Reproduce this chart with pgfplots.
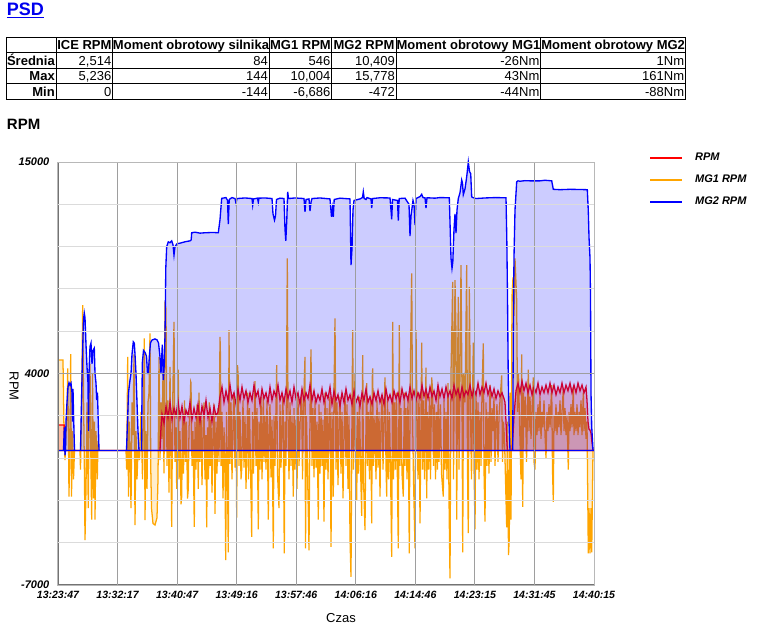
\documentclass[border=0pt]{standalone}
\usepackage{pgfplots}
\pgfplotsset{compat=1.18}
\usepackage{fontspec}
\setmainfont{Liberation Sans}
\definecolor{linkblue}{RGB}{0,0,238}
\definecolor{mgorange}{RGB}{255,165,0}
\definecolor{axgray}{RGB}{115,115,115}
\begin{document}
\begin{tikzpicture}
\useasboundingbox (0,0) rectangle (577.5pt,-471pt);
\begin{scope}[x=0.75pt,y=-0.75pt]
\node[anchor=base west, inner sep=0, text=linkblue, font=\fontsize{13.5}{16}\selectfont\bfseries] at (6.5,15) {\underline{PSD}};
\draw[line width=0.75pt] (6.7,37) rectangle (685.5,99.3);
\foreach \yy in {52.3,68,83.7} \draw[line width=0.75pt] (6.7,\yy) -- (685.5,\yy);
\foreach \xx in {56,112.7,269.3,331.7,396.2,540.7} \draw[line width=0.75pt] (\xx,37) -- (\xx,99.3);
\begin{scope}[every node/.style={inner sep=0, font=\fontsize{9.75}{12}\selectfont}]
\node[anchor=base, font=\fontsize{9.75}{12}\selectfont\bfseries] at (84.35,49.5) {ICE RPM};
\node[anchor=base, font=\fontsize{9.75}{12}\selectfont\bfseries] at (191,49.5) {Moment obrotowy silnika};
\node[anchor=base, font=\fontsize{9.75}{12}\selectfont\bfseries] at (300.5,49.5) {MG1 RPM};
\node[anchor=base, font=\fontsize{9.75}{12}\selectfont\bfseries] at (364,49.5) {MG2 RPM};
\node[anchor=base, font=\fontsize{9.75}{12}\selectfont\bfseries] at (468.5,49.5) {Moment obrotowy MG1};
\node[anchor=base, font=\fontsize{9.75}{12}\selectfont\bfseries] at (613.1,49.5) {Moment obrotowy MG2};
\node[anchor=base east, font=\fontsize{9.75}{12}\selectfont\bfseries] at (55,65.2) {Średnia};
\node[anchor=base east, font=\fontsize{9.75}{12}\selectfont\bfseries] at (55,80.9) {Max};
\node[anchor=base east, font=\fontsize{9.75}{12}\selectfont\bfseries] at (55,96.5) {Min};
\node[anchor=base east] at (111.5,65.2) {2,514};
\node[anchor=base east] at (268.2,65.2) {84};
\node[anchor=base east] at (330.6,65.2) {546};
\node[anchor=base east] at (395.1,65.2) {10,409};
\node[anchor=base east] at (539.6,65.2) {-26Nm};
\node[anchor=base east] at (684.4,65.2) {1Nm};
\node[anchor=base east] at (111.5,80.9) {5,236};
\node[anchor=base east] at (268.2,80.9) {144};
\node[anchor=base east] at (330.6,80.9) {10,004};
\node[anchor=base east] at (395.1,80.9) {15,778};
\node[anchor=base east] at (539.6,80.9) {43Nm};
\node[anchor=base east] at (684.4,80.9) {161Nm};
\node[anchor=base east] at (111.5,96.5) {0};
\node[anchor=base east] at (268.2,96.5) {-144};
\node[anchor=base east] at (330.6,96.5) {-6,686};
\node[anchor=base east] at (395.1,96.5) {-472};
\node[anchor=base east] at (539.6,96.5) {-44Nm};
\node[anchor=base east] at (684.4,96.5) {-88Nm};
\end{scope}
\node[anchor=base west, inner sep=0, font=\fontsize{11.25}{13}\selectfont\bfseries] at (6.7,129) {RPM};
\end{scope}
\begin{axis}[
  at={(43.5pt,-438.75pt)}, anchor=south west,
  scale only axis, width=402pt, height=317.25pt,
  clip=false,
  xmin=58, xmax=594, ymin=-7000, ymax=15000,
  xtick={58,117.56,177.11,236.67,296.22,355.78,415.33,474.89,534.44,594},
  xticklabels={13:23:47,13:32:17,13:40:47,13:49:16,13:57:46,14:06:16,14:14:46,14:23:15,14:31:45,14:40:15},
  minor x tick num=3,
  ytick={-7000,4000,15000},
  minor ytick={-4800,-2600,-400,1800,6200,8400,10600,12800},
  grid=both,
  major grid style={draw=black!38, line width=0.75pt},
  minor grid style={draw=black!14, line width=0.75pt},
  major tick length=0pt, minor tick length=0pt,
  tick style={draw=none},
  axis line style={draw=black!28, line width=0.75pt},
  axis on top,
  /pgf/number format/assume math mode=true,
  /pgf/number format/set thousands separator={},
  scaled y ticks=false,
  ticklabel style={font=\fontsize{8.25}{10}\selectfont\bfseries\itshape},
  yticklabel style={xshift=-3pt},
  xticklabel style={yshift=-1pt, font=\fontsize{7.9}{10}\selectfont\bfseries\itshape},
  xlabel={Czas},
  xlabel style={at={(axis description cs:0.528,-0.078)}, anchor=center, font=\fontsize{9.75}{12}\selectfont},
  ylabel={RPM},
  ylabel style={at={(axis description cs:-0.082,0.47)}, anchor=center, rotate=180, font=\fontsize{9.75}{12}\selectfont},
  legend style={draw=none, fill=none, at={(1.095,1.035)}, anchor=north west,
    font=\fontsize{8.25}{10}\selectfont\bfseries\itshape, row sep=5.3pt},
  legend cell align=left,
  legend image code/.code={\draw[#1, line width=1.5pt] (0pt,0pt) -- (24pt,0pt); \path (31.5pt,0pt);},
]
\addplot[forget plot, draw=mgorange, line width=0.95pt, fill=mgorange, fill opacity=0.2] coordinates {
(58,4700) (63,4700) (64,1000) (65,-500) (66,800) (67,2000) (67.7,4270) (68.5,500) (69,-2400) (70,1500) (70.7,5010) (71.5,-2400) (72.5,1000) (73.5,-1500) (74.5,0) (80,0)
(80.5,-1000) (81.5,2000) (82.7,7560) (83.5,3000) (84.5,-1500) (85,-4660) (86,-2000) (87,2500) (88.3,-3000) (89,1500) (90,4500) (91,-1000) (91.7,-3600) (92.5,4000) (93.5,-2500) (94.5,1500) (95,-3600) (96,1000) (97.3,-1500) (98,500) (99,0) (126,0)
(126.7,-1000) (127.7,4870) (128.5,-2400) (129.5,1500) (131,-3000) (132,2500) (133,800) (134,5000) (135,-3880) (136,1000) (137,-1500) (138,0) (139.5,-500) (141,2000) (142.5,-1500) (144.3,5830) (145,-3620) (146,1000) (147,-2000) (148,2500) (149,3000) (150,6090) (150.8,-1000) (151.5,-3000) (153,-3800) (155,-3880) (157,-3500) (158,-1500) (159,4870)
(160,-500) (161,2500) (162,600) (163,4000) (164,-1200) (165,7560) (166,7390) (167,-800) (168,2600) (169,-2200) (170,4350) (171,-900) (171.7,-3970) (172.5,1800) (174,6690) (175,-600) (176,1200) (176.7,-2000) (178,3200) (178.3,4200) (179,-1500) (180,1000)
(181,-2800) (181.7,-2400) (182.5,1800) (183.5,-1200) (184.5,2600) (185.5,-600) (186.5,1500) (187.5,-2500) (188.3,-2000) (189,1200) (190,2000) (190.7,3570) (191,3520) (192,-800) (193,1000) (194.3,-3970) (195,1500) (196,-1000) (197,2400) (198.3,-2000) (199,3000) (200,-600)
(201,2000) (202,-1800) (203,1000) (204,2500) (205,-1500) (206,800) (206.7,-4000) (207.5,1200) (208.5,-1500) (209.3,2500) (210,-800) (211,1600) (212,-2200) (213,1000) (214,2400) (215,-3300) (216,1500) (217,-1200) (218,2200) (219,-600) (220,5910) (220.5,4870)
(221,-800) (222,2000) (223,-2500) (224,1200) (225,-1000) (225.7,-5700) (226.5,2000) (227.5,-1500) (228.3,-5300) (229,6260) (230,-700) (231,2500) (232,-1500) (233,1400) (234,3000) (235,-900) (236,1800) (236.7,-3500) (237.5,4440) (238.3,3750) (239,-800) (240,2000)
(241,-1500) (241.7,-1000) (243,2600) (244,-900) (245,1800) (246,-2000) (247,1000) (247.7,3000) (248.5,-1500) (249.5,2200) (250.5,-800) (251.7,-4490) (252.5,2000) (253.5,-1200) (255,3600) (256,-800) (257,2200) (258.3,-4100) (259,1500) (260,-1000)
(261,2800) (262,-1500) (263.3,2800) (264,-600) (265,1800) (266,-1000) (267,2600) (268.3,-3600) (269,1200) (270,2400) (271,-1400) (272,1600) (273.3,-5090) (274,1800) (275,-800) (276.7,4440) (277.5,-1200) (279,-3000) (280,2400)
(281,-900) (282,1600) (283,2800) (284.3,-5350) (285,1500) (286,-800) (287.3,9990) (288,2000) (289,-1500) (290,2500) (291,-800) (292,1800) (293.3,-2400) (294,2200) (295,-1000) (296,1600) (297,-2000) (298,2800) (299,-800) (300,1400)
(301.7,3000) (302.5,-1500) (303.5,2200) (305,4870) (305.5,-5090) (306.5,1800) (307.5,-1000) (309,-5200) (310,2000) (311,5260) (312,-800) (313,2200) (314,-1400) (315,2600) (316,-900) (317,1500) (318.3,-3600) (319,2400) (320,-1200)
(321,2000) (322,-800) (323,1600) (324,-3700) (325,3000) (326,-1000) (327,2200) (328,-1500) (329,1800) (330,2800) (331,-5010) (332,2000) (333.3,-2400) (334,3000) (335,6870) (336,-1000) (337,2500) (338,-1800) (339,1500) (340,2800)
(341,-1200) (342,2000) (343,-2500) (344,1000) (345,3000) (346,-800) (347,2400) (348,-2000) (349,1800) (350,-4600) (351,-6570) (352,2200) (352.7,6260) (353.5,-1000) (355,4000) (356,-1500) (356.7,-2600) (357.5,2000) (358.5,-1200) (359.5,2800) (360.5,-800)
(361.7,-3400) (362.7,4960) (363.5,-1500) (365,-4140) (366,1500) (366.7,3500) (367.5,-800) (368.5,2000) (369.5,-1500) (370.5,2600) (371.7,-3800) (372.3,3800) (372.7,4270) (373.5,-800) (375,1800) (376,-1500) (377,2600) (378,-900) (379,2000) (380,-2400)
(381,1500) (382,2800) (383,-1000) (384,1800) (385,3800) (386,-800) (386.7,-2400) (387.5,2600) (388.5,-1500) (389.5,2000) (390.5,-1000) (391.7,-5530) (392.7,6690) (393.5,-1500) (394.5,2500) (395.5,-1000) (396.5,3000) (397.5,-2000) (398.3,-5100) (399.3,6520) (400,-800)
(401,2200) (402,-1200) (403.3,-2400) (404.3,3000) (405,-800) (406,2200) (407,-1500) (408,2800) (409.3,-5350) (410,2400) (410.7,5650) (411.7,9210) (412.5,2000) (413.5,-1500) (415,-5100) (416,6260) (417,2000) (418,-1500) (419,3000) (420,-3800)
(421.7,5600) (422.5,-1000) (423.5,2600) (424.5,-1500) (426,4300) (426.7,-2500) (427.5,2000) (428.5,-1000) (429.5,2800) (430.5,-1500) (431.7,3800) (432.7,3000) (433.5,-800) (434.5,2400) (435.5,-1500) (436.5,2000) (437.5,-1000) (438.3,3300) (439,-600) (440.5,2400)
(441.5,-1200) (443.3,-2400) (444,2600) (445,-1000) (446,2000) (447,-1500) (448,3500) (449,-2500) (450,-6650) (451,4000) (452.7,8770) (453.5,-1500) (455,8860) (456,6100) (456.7,-3600) (457.5,4000) (458.3,7990) (459,-1000) (461,9640) (462,3000) (462.7,-5300)
(463.5,4000) (465,2500) (466.7,9640) (467.5,-1000) (468.3,-4300) (469.3,8510) (470.5,2000) (471.5,-1500) (473.3,5600) (474,-800) (475,-4100) (476,3000) (477,-1000) (478,2500) (479,-1500) (480,2000)
(481,-800) (482,3000) (483.3,5570) (484,-1000) (485,-3700) (486,2500) (487,-800) (488,2000) (489,-1200) (490,3400) (491,-600) (492,2200) (493,1000) (494,2800) (495,-800) (496,1500) (497,2400) (498,-600) (499,1800) (500,2600)
(501.7,3900) (502.5,-600) (503.5,1500) (504.5,600) (505.5,-1500) (506.7,-4000) (507.5,1500) (508.5,-5440) (509.3,-4500) (510,3000) (511,-3600) (512,8000) (513,9000) (514,7000) (515,9990) (516.7,7800) (517.5,2000) (518.5,4000) (519.5,1500) (521,-1500)
(521.7,5000) (522.7,-2930) (523.5,3000) (524.5,1200) (525.5,2800) (526.5,-600) (527.5,2000) (528.3,4200) (529,1000) (530,2800) (531,600) (532,2200) (533.3,3800) (534,-600) (535,-1000) (536,2000) (537,800) (538,2400) (539,1000) (540,2800)
(541,600) (542,2000) (543,1200) (544,2600) (545,800) (546,-400) (547,2000) (548,1000) (549,2400) (550,1200) (551.7,3400) (552.5,-1000) (553.3,-2670) (554,1800) (555,1000) (556,2400) (557,800) (558,2000) (559,1200) (560,2600)
(561,800) (562,2000) (563.3,3200) (564,1000) (565,2200) (566,800) (567,1800) (568.3,-1000) (569,2000) (570,1000) (571,2400) (572,1200) (573.3,3300) (574,800) (575,2000) (576,1000) (577,2400) (578,800) (579,2000) (580,1200)
(581,2600) (582,800) (583.3,3000) (584,1000) (585,2200) (586,600) (587,1500) (588.3,-5350) (589,-3000) (590,-5350) (591,-3000) (591.7,-5300) (592.5,-2000) (593,0) (594,0)
} \closedcycle;
\addplot[forget plot, draw=red, line width=0.95pt, fill=red, fill opacity=0.2] coordinates {
(58,1320) (64.3,1320) (64.8,0) (160,0) (161,1200)
(162,1900) (164,1400) (166,2300) (168,1700) (170,2500) (172,1600) (174,2200) (176,1800) (178,2600) (180,1700) (182,2300) (184,1500) (186,2100) (188,1800) (190,2500) (192,1600) (194,2200) (196,1700) (198,2400) (200,1500)
(202,2300) (204,1800) (206,2600) (208,1700) (210,2200) (212,1500) (214,2300) (216,1800) (218,2000) (220,2800) (222,3300) (224,2500) (226,3100) (228,2600) (230,3400) (232,2700) (234,3000) (236,2400) (238,3200) (240,2600)
(242,3300) (244,2700) (246,3100) (248,2500) (250,3000) (252,2600) (254,3400) (256,2800) (258,3100) (260,2400) (262,3200) (264,2700) (266,3000) (268,2500) (270,3300) (272,2600) (274,3100) (276,2800) (278,3400) (280,2600)
(282,3000) (284,2500) (286,3200) (288,2700) (290,3100) (292,2500) (294,3300) (296,2700) (298,3000) (300,2400) (302,3200) (304,2600) (306,3000) (308,2700) (310,3400) (312,2600) (314,3100) (316,2500) (318,2900) (320,2600)
(322,3200) (324,2500) (326,3000) (328,2700) (330,3300) (332,2400) (334,3100) (336,2600) (338,2900) (340,2300) (342,3000) (344,2500) (346,3200) (348,2600) (350,2900) (352,2400) (354,3100) (356,2500) (358,2800) (360,2300)
(362,3000) (364,2600) (366,3200) (368,2500) (370,2800) (372,2400) (374,3000) (376,2600) (378,3100) (380,2500) (382,2900) (384,2400) (386,3200) (388,2600) (390,2900) (392,2500) (394,3100) (396,2700) (398,3000) (400,2500)
(402,3200) (404,2700) (406,3000) (408,2600) (410,3300) (412,2700) (414,3100) (416,2600) (418,3000) (420,2700) (422,3400) (424,2800) (426,3200) (428,2700) (430,3300) (432,2800) (434,3100) (436,2600) (438,3400) (440,2800)
(442,3200) (444,2700) (446,3300) (448,2800) (450,3100) (452,2700) (454,3400) (456,2900) (458,3200) (460,2700) (462,3300) (464,2800) (466,3100) (468,2900) (470,3400) (472,2800) (474,3200) (476,2900) (478,3500) (480,2900)
(482,3300) (484,3000) (486,3500) (488,2900) (490,3300) (492,2800) (494,3200) (496,2700) (498,3100) (500,2800) (502,3000) (504,2700) (505,2500) (506,1500) (507,300) (507.5,0) (512,0) (513,800) (514,1800)
(516,3100) (518,3500) (520,3000) (522,3600) (524,3100) (526,3500) (528,3000) (530,3400) (532,2900) (534,3300) (536,3000) (538,3500) (540,2900) (542,3300) (544,3000) (546,3400) (548,3000) (550,3500) (552,3000) (554,3400)
(556,2900) (558,3300) (560,3000) (562,3500) (564,3000) (566,3400) (568,3100) (570,3500) (572,3000) (574,3400) (576,3000) (578,3500) (580,3100) (582,3400) (584,3000) (586,3300) (587,2600) (588,1500) (589,1100) (590,1060) (591,900) (592,400) (593,0) (594,0)
} \closedcycle;
\addplot[forget plot, draw=blue, line width=1pt, fill=blue, fill opacity=0.2] coordinates {
(58,0) (63.5,0) (64.3,1200) (65,-250) (65.5,0) (66,1500) (67,2500) (68,3300) (69,3520) (70,3400) (71,3500) (72,3000) (72.5,1500) (73,3200) (73.5,2000) (74.5,0) (80.5,0)
(81.5,2500) (82.5,5000) (83.5,6800) (84.3,7140) (85,6900) (86,5500) (87,4350) (88,3500) (88.5,1000) (89,4000) (90,5400) (91,5580) (92,4500) (93,5200) (94.3,5320) (95,4000) (96,3500) (96.7,2620) (97.5,3000) (98.5,1000) (99,0) (126.5,0)
(127.5,1500) (128.5,3000) (130,3660) (131,4000) (132,5000) (133.3,5650) (134.3,5580) (135,5000) (136,4000) (137,2500) (138,1000) (139,0) (141.5,0) (142.3,4540) (143.5,5200) (145,5100) (146.5,4900) (147.5,4000) (148.3,4000) (149.5,5000) (150.5,5600) (152,5740) (155,5800) (157,5750) (158.5,5600) (160,4870) (161,4000) (162.3,5500) (163.3,3660) (164.3,4500) (165,6000) (165.8,9500) (166.7,10600)
(168.3,10850) (170,10800) (171.7,10900) (173,10700) (174,10160) (175,10600) (177,10750) (180,10780) (185,10850) (190,10900) (191.2,10950) (191.7,11320) (195,11350) (200,11300) (205,11320) (210,11330) (215,11330) (218.3,11320) (220,12000) (221.7,13110)
(226,13150) (227.5,13000) (228.3,11770) (229.2,13050) (232,13150) (235,13100) (236,12860) (237,13100) (245,13130) (252,13100) (252.7,12760) (253.5,13080) (257.5,13120) (258.3,12900) (259,13120) (265,13130) (272,13100) (273,12300) (274.5,11980) (275.5,12200) (276.5,13050) (280,13120)
(284,13100) (285,11500) (285.8,10900) (286.8,12000) (287.7,13450) (288.5,13100) (295,13130) (304,13100) (305,12410) (306,13050) (309,13080) (310,12450) (311,12900) (312,13100) (320,13130) (330,13080) (331.5,12150) (332.5,12600) (333.3,12150) (334.2,13050) (340,13120)
(350,13080) (351,9640) (352,10500) (353,12500) (354,13000) (360,13080) (362.5,13150) (363.3,13450) (364.2,13100) (366,13050) (367,13150) (371,13080) (371.7,12600) (372.5,13100) (380,13140) (390,13130) (391,12500) (391.7,12020) (392.5,13050) (397.5,13000) (398.3,11950) (399.2,13100)
(405,13120) (409,12800) (410,11150) (411,12200) (413,13000) (414,12800) (415,11720) (416,13100) (420,13200) (421.7,13320) (423,13150) (425,13140) (426,12600) (427,13140) (435,13120) (440,13150) (449.3,13140) (450.2,11500) (451,10000) (452,9470) (452.8,9800) (454,11500) (455,12300) (456,11300) (457,12500) (458.3,13100)
(460,13400) (461.7,14060) (462.5,13900) (463.3,13300) (465,13600) (466.7,14230) (468.3,15000) (469.5,14500) (470.7,14400) (471.7,13190) (473,13150) (476,13100) (485,13130) (495,13150) (506,13140) (506.8,11000) (507.5,8000) (508.2,4000) (509,1500) (510,0) (512.7,0)
(513.3,6000) (514,10070) (515,12500) (516.7,13970) (518,14020) (520,14000) (525,14030) (530,14020) (540,14020) (545,14050) (551.7,14020) (553.3,13580) (560,13560) (570,13580) (580,13570) (587.3,13560) (588.3,12460) (589,11100) (590,10000) (590.5,8000) (591,3000) (591.7,1230) (592.5,500) (593,0) (594,0)
} \closedcycle;
\draw[axgray, line width=1.5pt] (rel axis cs:0,1) -- (rel axis cs:0,0) -- (rel axis cs:1,0);
\addlegendimage{red}
\addlegendentry{RPM}
\addlegendimage{mgorange}
\addlegendentry{MG1 RPM}
\addlegendimage{blue}
\addlegendentry{MG2 RPM}
\end{axis}
\end{tikzpicture}
\end{document}
